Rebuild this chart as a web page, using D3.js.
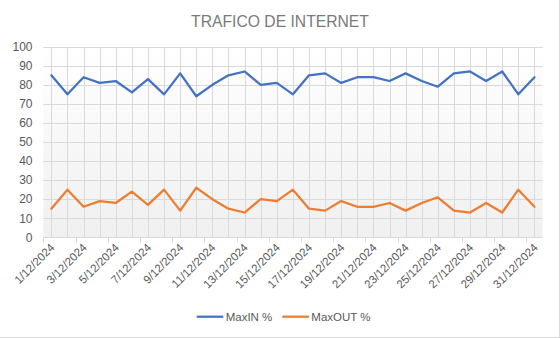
<!DOCTYPE html>
<html>
<head>
<meta charset="utf-8">
<script src="https://cdn.jsdelivr.net/npm/d3@7"></script>
<style>
  html, body { margin: 0; padding: 0; background: #fff; }
  svg { display: block; font-family: "Liberation Sans", Arial, sans-serif; }
</style>
</head>
<body>
<svg id="chart" width="560" height="338"></svg>
<script>
const title = "TRAFICO DE INTERNET";
const days = d3.range(1, 32).map(d => d + "/12/2024");
const maxIn = [85,75,84,81,82,76,83,75,86,74,80,85,87,80,81,75,85,86,81,84,84,82,86,82,79,86,87,82,87,75,84];
const maxOut = [15,25,16,19,18,24,17,25,14,26,20,15,13,20,19,25,15,14,19,16,16,18,14,18,21,14,13,18,13,25,16];
const seriesNames = ["MaxIN %", "MaxOUT %"];
const seriesColors = ["#4472C4", "#ED7D31"];
const yTicks = [0,10,20,30,40,50,60,70,80,90,100];
const xLabelDays = days.filter((d, i) => i % 2 === 0);

const svg = d3.select("#chart");
const W = 560, H = 338;
const plot = { left: 43.3, right: 542.5, top: 46.7, bottom: 237.3 };

// chart frame (right & bottom edges visible)
svg.append("line").attr("x1", W - 0.5).attr("x2", W - 0.5).attr("y1", 0).attr("y2", H).attr("stroke", "#d9d9d9");
svg.append("line").attr("x1", 0).attr("x2", W).attr("y1", H - 0.5).attr("y2", H - 0.5).attr("stroke", "#d9d9d9");

// gradient background
const defs = svg.append("defs");
const grad = defs.append("linearGradient").attr("id", "bg").attr("x1", 0).attr("y1", 0).attr("x2", 0).attr("y2", 1);
grad.append("stop").attr("offset", "0%").attr("stop-color", "#ffffff");
grad.append("stop").attr("offset", "100%").attr("stop-color", "#f0f0f0");

const x = d3.scaleBand().domain(days).range([plot.left, plot.right]).padding(0);
const y = d3.scaleLinear().domain([0, 100]).range([plot.bottom, plot.top]);
const cx = d => x(d) + x.bandwidth() / 2;

svg.append("rect")
  .attr("x", plot.left).attr("y", plot.top)
  .attr("width", plot.right - plot.left).attr("height", plot.bottom - plot.top)
  .attr("fill", "url(#bg)");

// horizontal gridlines
svg.append("g").selectAll("line").data(yTicks).join("line")
  .attr("x1", plot.left).attr("x2", plot.right)
  .attr("y1", d => Math.round(y(d)) + 0.5).attr("y2", d => Math.round(y(d)) + 0.5)
  .attr("stroke", "#d9d9d9").attr("stroke-width", 1);

// vertical gridlines at each category
svg.append("g").selectAll("line").data(days).join("line")
  .attr("x1", d => Math.round(cx(d)) + 0.5).attr("x2", d => Math.round(cx(d)) + 0.5)
  .attr("y1", plot.top).attr("y2", plot.bottom)
  .attr("stroke", "#d9d9d9").attr("stroke-width", 1);

// y axis labels
svg.append("g").selectAll("text").data(yTicks).join("text")
  .attr("x", 32.5).attr("y", d => y(d) + 4.3)
  .attr("text-anchor", "end")
  .attr("font-size", "12px").attr("fill", "#595959")
  .text(d => d);

// x axis tick marks (every two categories, at boundaries)
const tickDays = days.filter((d, i) => i % 2 === 0);
svg.append("g").selectAll("line").data(tickDays).join("line")
  .attr("x1", d => Math.round(x(d)) + 0.5).attr("x2", d => Math.round(x(d)) + 0.5)
  .attr("y1", plot.bottom).attr("y2", plot.bottom + 5)
  .attr("stroke", "#d9d9d9");

// x axis labels rotated
svg.append("g").selectAll("text").data(xLabelDays).join("text")
  .attr("transform", d => `translate(${cx(d) + 4},${plot.bottom + 11}) rotate(-45)`)
  .attr("text-anchor", "end")
  .attr("font-size", "11.5px").attr("fill", "#595959")
  .text(d => d);

// lines
const line = d3.line().x((v, i) => cx(days[i])).y(v => y(v));
[maxIn, maxOut].forEach((s, k) => {
  svg.append("path").datum(s)
    .attr("d", line)
    .attr("fill", "none")
    .attr("stroke", seriesColors[k])
    .attr("stroke-width", 2.25)
    .attr("stroke-linejoin", "round")
    .attr("stroke-linecap", "round");
});

// title
svg.append("text")
  .attr("x", 280).attr("y", 27)
  .attr("text-anchor", "middle")
  .attr("font-size", "15.7px").attr("fill", "#7a7a7a")
  .text(title);

// legend
const legendItems = [
  { name: seriesNames[0], color: seriesColors[0], x0: 196.7 },
  { name: seriesNames[1], color: seriesColors[1], x0: 282.3 }
];
const lg = svg.append("g");
legendItems.forEach(it => {
  lg.append("line").attr("x1", it.x0).attr("x2", it.x0 + 26.6)
    .attr("y1", 316.7).attr("y2", 316.7)
    .attr("stroke", it.color).attr("stroke-width", 2.25);
  lg.append("text").attr("x", it.x0 + 29).attr("y", 320.8)
    .attr("font-size", "11.5px").attr("fill", "#595959")
    .text(it.name);
});
</script>
</body>
</html>
